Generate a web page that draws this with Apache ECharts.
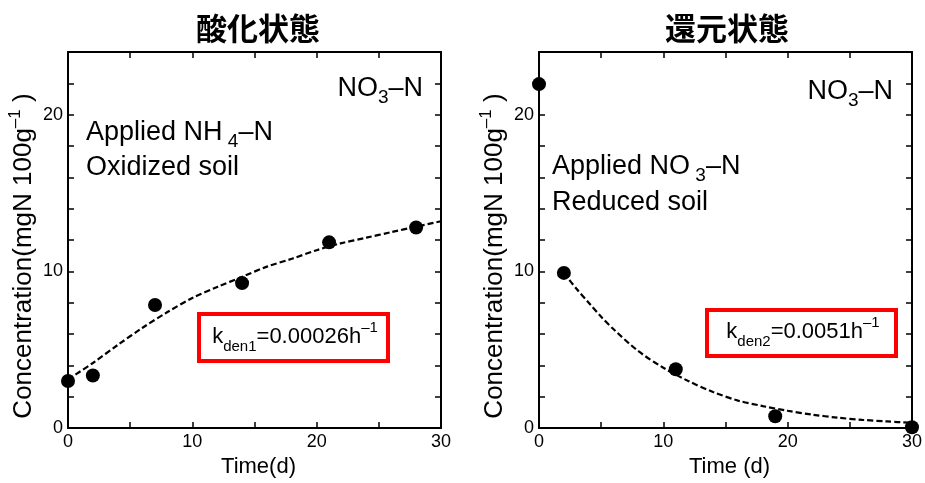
<!DOCTYPE html>
<html>
<head>
<meta charset="utf-8">
<script src="https://cdn.jsdelivr.net/npm/echarts@6/dist/echarts.min.js"></script>
<style>
  html, body { margin: 0; padding: 0; background: #fff; }
  #chart { width: 925px; height: 483px; }
</style>
</head>
<body>
<div id="chart"></div>
<script>
// Panel headings and axis names
const panelTitles = ['酸化状態', '還元状態'];
const timeNames = ['Time(d)', 'Time (d)'];
const xLabelValues = [0, 10, 20, 30];
const yLabelValues = [0, 10, 20];

// Oxidized soil with applied NH4-N: measured NO3-N (mgN 100g^-1)
const oxTime = [0, 2, 7, 14, 21, 28];
const oxNO3 = [3.0, 3.35, 7.85, 9.25, 11.85, 12.8];
// Fitted nitrification curve (dashed)
const oxFitTime = [0, 2, 4, 6, 8, 10, 12, 14, 16, 18, 20, 22, 24, 26, 28, 30];
const oxFit = [3.1, 4.15, 5.3, 6.4, 7.4, 8.3, 9.0, 9.65, 10.3, 10.8, 11.35, 11.8, 12.15, 12.5, 12.85, 13.2];

// Reduced soil with applied NO3-N: measured NO3-N
const redTime = [0, 2, 11, 19, 30];
const redNO3 = [21.95, 9.9, 3.75, 0.75, 0.05];
// Fitted denitrification curve (dashed)
const redFitTime = [2, 3, 4, 5, 6, 8, 10, 12, 14, 16, 18, 20, 22, 24, 26, 28, 30];
const redFit = [9.9, 8.9, 8.0, 7.1, 6.3, 4.9, 3.85, 3.0, 2.3, 1.75, 1.4, 1.1, 0.85, 0.66, 0.52, 0.42, 0.33];

const FONT = '"Liberation Sans", Arial, sans-serif';
const JP = '"Noto Sans CJK JP", sans-serif';

const pairs = (xs, ys) => xs.map((x, i) => [x, ys[i]]);

const grids = [
  { left: 68, top: 52, width: 373, height: 378 },
  { left: 539, top: 52, width: 373, height: 378 }
];

const axisLine = { onZero: false, lineStyle: { color: '#000', width: 2 } };
const tickStyle = { inside: true, length: 6, lineStyle: { color: '#000', width: 1.5 } };

const xAxes = [];
const yAxes = [];
[0, 1].forEach(i => {
  xAxes.push({
    type: 'value', gridIndex: i, position: 'bottom', min: 0, max: 30, interval: 5,
    axisLine, axisTick: tickStyle, splitLine: { show: false },
    axisLabel: {
      margin: 5, fontSize: 18, color: '#000', fontFamily: FONT,
      formatter: v => (xLabelValues.includes(v) ? String(v) : '')
    },
    name: timeNames[i], nameLocation: 'middle', nameGap: 28,
    nameTextStyle: { fontSize: 22, color: '#000', fontFamily: FONT, padding: [0, 0, 0, 8] }
  });
  xAxes.push({
    type: 'value', gridIndex: i, position: 'top', min: 0, max: 30, interval: 5,
    axisLine, axisTick: tickStyle, splitLine: { show: false },
    axisLabel: { show: false }
  });
  yAxes.push({
    type: 'value', gridIndex: i, position: 'left', min: 0, max: 24, interval: 2,
    axisLine, axisTick: tickStyle, splitLine: { show: false },
    axisLabel: {
      margin: 5, fontSize: 18, color: '#000', fontFamily: FONT,
      formatter: v => (yLabelValues.includes(v) ? String(v) : '')
    }
  });
  yAxes.push({
    type: 'value', gridIndex: i, position: 'right', min: 0, max: 24, interval: 2,
    axisLine, axisTick: tickStyle, splitLine: { show: false },
    axisLabel: { show: false }
  });
});

const dotSeries = (xi, yi, data) => ({
  type: 'scatter', xAxisIndex: xi, yAxisIndex: yi, data,
  symbol: 'circle', symbolSize: 14, itemStyle: { color: '#000', opacity: 1 }, z: 5, silent: true
});
const fitSeries = (xi, yi, data) => ({
  type: 'line', xAxisIndex: xi, yAxisIndex: yi, data,
  symbol: 'none', smooth: 0.3, lineStyle: { color: '#000', width: 2.2, type: [6, 3], opacity: 1 }, z: 4, silent: true
});

// Rich text styles for labels with sub/superscripts
const big = { fontSize: 27, lineHeight: 36, fontFamily: FONT, fill: '#000' };
const bigSub = { fontSize: 19, lineHeight: 19, fontFamily: FONT, fill: '#000', verticalAlign: 'bottom' };
const kMain = { fontSize: 22, lineHeight: 34, fontFamily: FONT, fill: '#000' };
const kSub = { fontSize: 15, lineHeight: 15, fontFamily: FONT, fill: '#000', verticalAlign: 'bottom' };
const kSup = { fontSize: 15, lineHeight: 15, fontFamily: FONT, fill: '#000', verticalAlign: 'top' };
const yMain = { fontSize: 26, lineHeight: 34, fontFamily: FONT, fill: '#000' };
const ySup = { fontSize: 17, lineHeight: 17, fontFamily: FONT, fill: '#000', verticalAlign: 'top' };

const richText = (x, y, text, rich, align, extra) => Object.assign({
  type: 'text', x, y, silent: true, z: 10,
  style: { text, rich, align: align || 'left', verticalAlign: 'middle' }
}, extra || {});

const graphics = [
  // Panel headings
  { type: 'text', x: 258, y: 28, silent: true,
    style: { text: panelTitles[0], font: 'bold 31px ' + JP, fill: '#000', align: 'center', verticalAlign: 'middle' } },
  { type: 'text', x: 727, y: 28, silent: true,
    style: { text: panelTitles[1], font: 'bold 31px ' + JP, fill: '#000', align: 'center', verticalAlign: 'middle' } },

  // Y axis titles
  richText(24, 256, '{m|Concentration(mgN 100g}{s|–1}{m| )}', { m: yMain, s: ySup }, 'center', { rotation: Math.PI / 2 }),
  richText(495, 256, '{m|Concentration(mgN 100g}{s|–1}{m| )}', { m: yMain, s: ySup }, 'center', { rotation: Math.PI / 2 }),

  // Species labels in upper right
  richText(423, 89, '{m|NO}{s|3}{m|–N}', { m: big, s: bigSub }, 'right'),
  richText(893, 92, '{m|NO}{s|3}{m|–N}', { m: big, s: bigSub }, 'right'),

  // Treatment descriptions
  richText(86, 133, '{m|Applied NH}{s| 4}{m|–N}', { m: big, s: bigSub }, 'left'),
  richText(86, 168, '{m|Oxidized soil}', { m: big }, 'left'),
  richText(552, 167, '{m|Applied NO}{s| 3}{m|–N}', { m: big, s: bigSub }, 'left'),
  richText(552, 203, '{m|Reduced soil}', { m: big }, 'left'),

  // Rate constant boxes
  { type: 'rect', silent: true, z: 9, shape: { x: 199, y: 314, width: 189, height: 47 },
    style: { fill: '#fff', stroke: '#ff0000', lineWidth: 4 } },
  richText(295, 337, '{m|k}{b|den1}{m|=0.00026h}{p|–1}', { m: kMain, b: kSub, p: kSup }, 'center'),
  { type: 'rect', silent: true, z: 9, shape: { x: 707, y: 310, width: 189, height: 46 },
    style: { fill: '#fff', stroke: '#ff0000', lineWidth: 4 } },
  richText(803, 332, '{m|k}{b|den2}{m|=0.0051h}{p|–1}', { m: kMain, b: kSub, p: kSup }, 'center')
];

const chart = echarts.init(document.getElementById('chart'), null, { renderer: 'canvas' });
chart.setOption({
  animation: false,
  backgroundColor: '#fff',
  grid: grids,
  xAxis: xAxes,
  yAxis: yAxes,
  series: [
    fitSeries(0, 0, pairs(oxFitTime, oxFit)),
    dotSeries(0, 0, pairs(oxTime, oxNO3)),
    fitSeries(2, 2, pairs(redFitTime, redFit)),
    dotSeries(2, 2, pairs(redTime, redNO3))
  ],
  graphic: graphics
});
</script>
</body>
</html>
